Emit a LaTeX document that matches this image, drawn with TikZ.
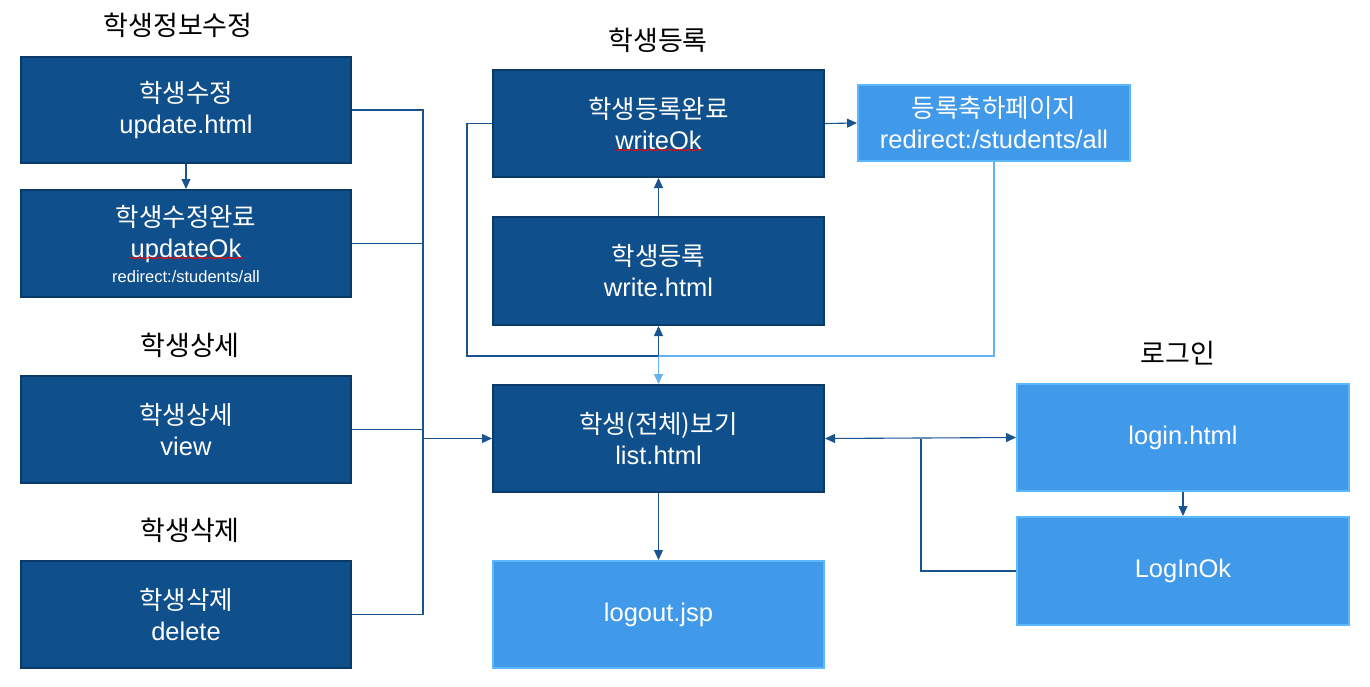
\documentclass[tikz,border=0pt]{standalone}
\usepackage{fontspec}
\setmainfont{Liberation Sans}
\newfontfamily\kr{Noto Sans CJK KR}
\usetikzlibrary{arrows.meta,calc,decorations.pathmorphing}
\definecolor{dkfill}{HTML}{0F4F8B}
\definecolor{dkdraw}{HTML}{0A3A68}
\definecolor{ltfill}{HTML}{4199E9}
\definecolor{ltdraw}{HTML}{5CB8FF}
\definecolor{cdark}{HTML}{1A5490}
\definecolor{clight}{HTML}{66B2F2}
\tikzset{
  box/.style={draw=dkdraw, fill=dkfill, line width=2pt, text=white, align=center,
    inner sep=0pt, font=\fontsize{25.5}{31}\selectfont},
  dkbox/.style={box, minimum width=330pt, minimum height=106pt},
  ltbox/.style={box, draw=ltdraw, fill=ltfill},
  title/.style={font=\kr\fontsize{27}{30}\selectfont, text=black, inner sep=0pt},
  conn/.style={draw=cdark, line width=1.1pt},
  lconn/.style={draw=clight, line width=1.1pt},
  tip/.style={-{Triangle[length=10pt,width=9pt]}},
  dtip/.style={{Triangle[length=10pt,width=9pt]}-{Triangle[length=10pt,width=9pt]}},
  squig/.style={draw=red, line width=0.6pt, decorate,
    decoration={snake, segment length=2.5pt, amplitude=0.7pt}}
}
\begin{document}
\begin{tikzpicture}[x=1pt, y=-1pt]
\useasboundingbox (0,0) rectangle (1370,686);
% titles
\node[title] (t1) at (178,25) {학생정보수정};
\node[title] (t2) at (658,40) {학생등록};
\node[title] (t3) at (190,345) {학생상세};
\node[title] (t4) at (190,530) {학생삭제};
\node[title] (t5) at (1178,353) {로그인};
% left column
\node[dkbox] (upd) at (186,110) {{\kr 학생수정}\\update.html};
\node[dkbox, minimum height=107pt] (updok) at (186,243.5)
  {{\kr 학생수정완료}\\updateOk\\[-6pt]{\fontsize{16.5}{18}\selectfont redirect:/students/all}};
\node[dkbox, minimum height=107pt] (view) at (186,429.5) {{\kr 학생상세}\\view};
\node[dkbox, minimum height=107pt] (del) at (186,614.5) {{\kr 학생삭제}\\delete};
% middle column
\node[dkbox, minimum width=331pt, minimum height=107pt] (wok) at (658.5,123.5) {{\kr 학생등록완료}\\writeOk};
\node[dkbox, minimum width=331pt, minimum height=108pt] (wr) at (658.5,271) {{\kr 학생등록}\\write.html};
\node[dkbox, minimum width=331pt, minimum height=107pt] (list) at (658.5,438.5) {{\kr 학생(전체)보기}\\list.html};
\node[ltbox, minimum width=331pt, minimum height=107pt] (logout) at (658.5,614.5) {logout.jsp};
% right
\node[ltbox, minimum width=272pt, minimum height=76pt] (reg) at (994,123) {{\kr 등록축하페이지}\\redirect:/students/all};
\node[ltbox, minimum width=332pt, minimum height=107pt] (login) at (1183,437.5) {login.html};
\node[ltbox, minimum width=332pt, minimum height=108pt] (loginok) at (1183,571) {LogInOk};
% junction coordinates
\coordinate (J) at (423,438.5);
\coordinate (K) at (658.5,356);
\coordinate (W) at (467,356);
\coordinate (L) at (921,438.5);
% left connectors
\draw[conn] (upd.east) -| (J);
\draw[conn] (updok.east) -| (J);
\draw[conn] (view.east) -| (J);
\draw[conn] (del.east) -| (J);
\draw[conn, tip] (J) -- (list.west);
\draw[conn, tip] (upd.south) -- (updok.north);
% registration
\draw[conn, tip] (wr.north) -- (wok.south);
\draw[conn] (wok.west) -| (W) -- (K);
\draw[conn, tip] (K) -- (wr.south);
\draw[lconn] (reg.south) |- (K);
\draw[lconn, tip] (K) -- (list.north);
\draw[conn, tip] (wok.east) -- (reg.west);
% login
\draw[conn, dtip] (list.east) -- (login.west);
\draw[conn] (loginok.west) -| (L);
\draw[conn, tip] (login.south) -- (loginok.north);
\draw[conn, tip] (list.south) -- (logout.north);
% spell-check squiggles
\draw[squig] ($(wok.center)+(-43.5,26.5)$) -- ($(wok.center)+(44.5,26.5)$);
\draw[squig] ($(updok.center)+(-56,14.5)$) -- ($(updok.center)+(57,14.5)$);
\end{tikzpicture}
\end{document}
